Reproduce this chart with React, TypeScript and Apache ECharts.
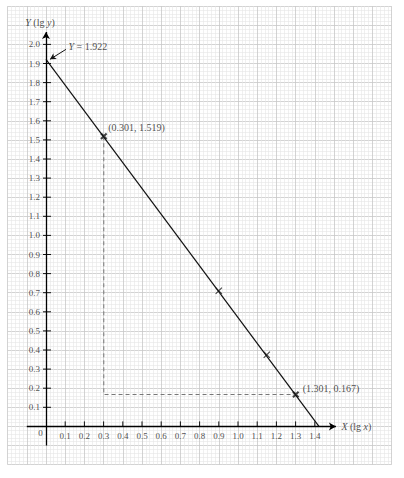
import React, { useEffect, useRef } from "react";
import * as echarts from "echarts";

// ---- data ----
const xTickValues = [0.1, 0.2, 0.3, 0.4, 0.5, 0.6, 0.7, 0.8, 0.9, 1.0, 1.1, 1.2, 1.3, 1.4];
const yTickValues = [0.1, 0.2, 0.3, 0.4, 0.5, 0.6, 0.7, 0.8, 0.9, 1.0, 1.1, 1.2, 1.3, 1.4, 1.5, 1.6, 1.7, 1.8, 1.9, 2.0];
const fitLine = [[0, 1.922], [1.4216, 0]];
const keyPoints = [[0.301, 1.519], [1.301, 0.167]];
const otherPoints = [[0.9, 0.71], [1.15, 0.375]];
const helperPath = [[0.301, 1.519], [0.301, 0.167], [1.301, 0.167]];
const interceptArrow = [[0.104, 1.974], [0.021, 1.922]];
const xAxisExtent = [-0.1, 1.51];
const yAxisExtent = [-0.1, 2.065];

const SERIF = "'Liberation Serif', 'Times New Roman', serif";
const X_THIN = "path://M0,1L1,0L5,4L9,0L10,1L6,5L10,9L9,10L5,6L1,10L0,9L4,5Z";
const X_BOLD = "path://M0,2L2,0L5,3L8,0L10,2L7,5L10,8L8,10L5,7L2,10L0,8L3,5Z";

export default function App() {
  const ref = useRef<HTMLDivElement>(null);
  useEffect(() => {
    if (!ref.current) return;
    const chart = echarts.init(ref.current, undefined, { renderer: "svg" });
    const rich = {
      i: { fontStyle: "italic", fontFamily: SERIF, fontSize: 10, color: "#222" },
      n: { fontFamily: SERIF, fontSize: 10, color: "#222" },
    };
    const lbl = (text: string, extra: any) => ({
      show: true,
      formatter: text,
      fontFamily: SERIF,
      fontSize: 10,
      color: "#222",
      rich,
      ...extra,
    });
    const tickLabel = (extra: any) => ({
      show: true,
      formatter: (p: any) => Number(p.data.tick).toFixed(1),
      fontFamily: SERIF,
      fontSize: 9,
      color: "#222",
      ...extra,
    });
    const gridAxis = (min: number, max: number) => ({
      type: "value",
      min,
      max,
      interval: 0.1,
      axisLine: { show: false },
      axisTick: { show: false },
      axisLabel: { show: false },
      splitLine: { show: true, lineStyle: { color: "#c8c8c8", width: 0.8 } },
      minorTick: { show: false, splitNumber: 5 },
      minorSplitLine: { show: true, lineStyle: { color: "#e6e6e6", width: 0.6 } },
    });
    chart.setOption({
      animation: false,
      backgroundColor: "#fff",
      grid: {
        left: 7.6,
        right: 12.4,
        top: 6.2,
        bottom: 13.4,
        containLabel: false,
        outerBoundsMode: "none",
      },
      xAxis: gridAxis(-0.2, 1.8),
      yAxis: gridAxis(-0.2, 2.2),
      series: [
        {
          name: "axes",
          type: "line",
          data: [],
          silent: true,
          markLine: {
            silent: true,
            symbol: ["none", "arrow"],
            symbolSize: [6, 7],
            label: { show: false },
            lineStyle: { color: "#000", width: 1.3, type: "solid" },
            emphasis: { disabled: true },
            data: [
              [{ coord: [xAxisExtent[0], 0] }, { coord: [xAxisExtent[1], 0] }],
              [{ coord: [0, yAxisExtent[0]] }, { coord: [0, yAxisExtent[1]] }],
            ],
          },
        },
        {
          name: "yticks",
          type: "custom",
          silent: true,
          data: yTickValues.map((v) => [0, v]),
          renderItem: (params: any, api: any) => {
            const p = api.coord([api.value(0), api.value(1)]);
            return {
              type: "line",
              shape: { x1: p[0] - 3, y1: p[1], x2: p[0] + 5, y2: p[1] },
              style: { stroke: "#111", lineWidth: 1 },
            };
          },
        },
        {
          name: "xticks",
          type: "custom",
          silent: true,
          data: xTickValues.map((v) => [v, 0]),
          renderItem: (params: any, api: any) => {
            const p = api.coord([api.value(0), api.value(1)]);
            return {
              type: "line",
              shape: { x1: p[0], y1: p[1] - 5, x2: p[0], y2: p[1] },
              style: { stroke: "#111", lineWidth: 1 },
            };
          },
        },
        {
          name: "xlabels",
          type: "scatter",
          symbolSize: 1,
          silent: true,
          itemStyle: { color: "rgba(0,0,0,0)" },
          data: xTickValues.map((v) => ({ value: [v, 0], tick: v })),
          label: tickLabel({ position: "bottom", distance: 5 }),
        },
        {
          name: "ylabels",
          type: "scatter",
          symbolSize: 1,
          silent: true,
          itemStyle: { color: "rgba(0,0,0,0)" },
          data: yTickValues.map((v) => ({ value: [0, v], tick: v })),
          label: tickLabel({ position: "left", distance: 5.5 }),
        },
        {
          name: "helper",
          type: "line",
          data: helperPath,
          showSymbol: false,
          silent: true,
          lineStyle: { color: "#777", width: 1, type: [4, 3] },
        },
        {
          name: "fit",
          type: "line",
          data: fitLine,
          showSymbol: false,
          silent: true,
          lineStyle: { color: "#111", width: 1.2 },
        },
        {
          name: "points",
          type: "scatter",
          data: otherPoints,
          symbol: X_THIN,
          symbolSize: 7,
          silent: true,
          itemStyle: { color: "#111" },
        },
        {
          name: "keypoints",
          type: "scatter",
          data: keyPoints,
          symbol: X_BOLD,
          symbolSize: 7,
          silent: true,
          itemStyle: { color: "#111" },
        },
        {
          name: "intercept-arrow",
          type: "line",
          data: [],
          silent: true,
          markLine: {
            silent: true,
            symbol: ["none", "arrow"],
            symbolSize: [5, 6],
            label: { show: false },
            lineStyle: { color: "#111", width: 1, type: "solid" },
            data: [[{ coord: interceptArrow[0] }, { coord: interceptArrow[1] }]],
          },
        },
        {
          name: "labels",
          type: "scatter",
          symbolSize: 1,
          silent: true,
          itemStyle: { color: "rgba(0,0,0,0)" },
          data: [
            { value: [0, 0], label: lbl("0", { position: "inside", offset: [-5.5, 7], fontSize: 9 }) },
            { value: keyPoints[0], label: lbl("(0.301, 1.519)", { position: "right", distance: 4, offset: [0, -9] }) },
            { value: keyPoints[1], label: lbl("(1.301, 0.167)", { position: "right", distance: 6.5, offset: [0, -6] }) },
            { value: fitLine[0], label: lbl("{i|Y}{n| = 1.922}", { position: "right", distance: 22, offset: [0, -12.6] }) },
            { value: [0, yAxisExtent[1]], label: lbl("{i|Y}{n| (lg }{i|y}{n|)}", { position: "top", distance: 4, offset: [-6, 0] }) },
            { value: [xAxisExtent[1], 0], label: lbl("{i|X}{n| (lg }{i|x}{n|)}", { position: "right", distance: 5, offset: [0, 0] }) },
          ],
        },
      ],
    });
    return () => chart.dispose();
  }, []);
  return (
    <div
      ref={ref}
      style={{ position: "fixed", left: 0, top: 0, width: 404, height: 478 }}
    />
  );
}
